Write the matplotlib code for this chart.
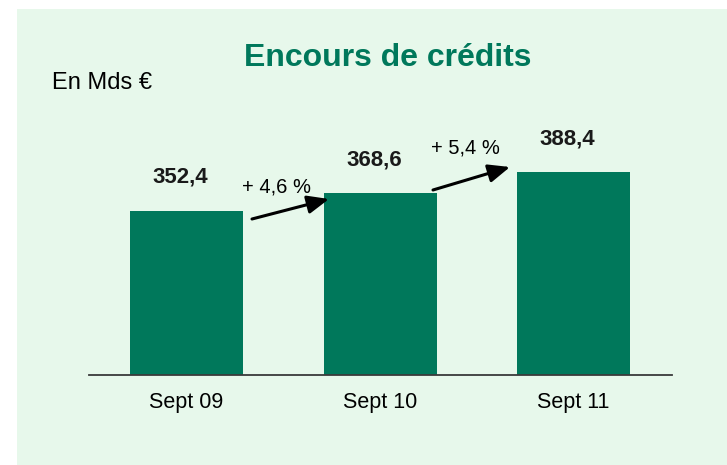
import matplotlib
matplotlib.use("Agg")
import matplotlib.pyplot as plt
from matplotlib.patches import Rectangle

plt.rcParams['font.family'] = ['Liberation Sans', 'DejaVu Sans']

categories = ["Sept 09", "Sept 10", "Sept 11"]
values = [352.4, 368.6, 388.4]
value_labels = ["352,4", "368,6", "388,4"]
growth_labels = ["+ 4,6 %", "+ 5,4 %"]

GREEN = "#00785B"
PANEL = "#E7F8EB"

W, H = 727, 465
fig = plt.figure(figsize=(W / 100, H / 100), dpi=100, facecolor="white")

# light green panel
fig.patches.append(Rectangle((17 / W, 0), (W - 17) / W, (H - 9) / H,
                             transform=fig.transFigure, facecolor=PANEL,
                             edgecolor="none", zorder=-10))

ax_left, ax_right, ax_bottom_px, ax_top_px = 89, 672, 375, 9
ax = fig.add_axes([ax_left / W, (H - ax_bottom_px) / H,
                   (ax_right - ax_left) / W, (ax_bottom_px - ax_top_px) / H])
ax.set_facecolor("none")

x = list(range(len(categories)))
ax.bar(x, values, width=0.584, color=GREEN, zorder=2)
ymin = 199.6
ax.set_ylim(ymin, ymin + (ax_bottom_px - ax_top_px) / 1.075)
ax.set_xlim(-0.504, 2.509)

for s in ["top", "right", "left"]:
    ax.spines[s].set_visible(False)
ax.spines["bottom"].set_color("#3a3a3a")
ax.spines["bottom"].set_linewidth(1.3)
ax.set_yticks([])
ax.set_xticks(x)
ax.set_xticklabels(categories, fontsize=15.5)
ax.tick_params(axis="x", length=0, pad=12)

for xi, v, lab in zip(x, values, value_labels):
    ax.annotate(lab, (xi - 0.03, v), xytext=(0, 24), textcoords="offset points",
                ha="center", va="center", fontsize=16, fontweight="bold",
                color="#1a1a1a")

# growth annotations (figure pixel coordinates)
growth_pos = [(277, 187), (465.5, 148)]
arrows = [((252, 219), (329, 199)), ((433, 190), (510, 167))]
for lab, (tx, ty) in zip(growth_labels, growth_pos):
    fig.text(tx / W, (H - ty) / H, lab, ha="center", va="center",
             fontsize=14.5, color="black")
for (x0, y0), (x1, y1) in arrows:
    ax.annotate("", xy=(x1, H - y1), xycoords="figure pixels",
                xytext=(x0, H - y0), textcoords="figure pixels",
                arrowprops=dict(arrowstyle="-|>,head_length=1.3,head_width=0.55",
                                color="black", lw=2.2, shrinkA=0, shrinkB=0))

fig.text(387.5 / W, (H - 58) / H, "Encours de crédits", ha="center", va="center",
         fontsize=23, fontweight="bold", color=GREEN)
fig.text(52 / W, (H - 83) / H, "En Mds €", ha="left", va="center",
         fontsize=17, color="black")

fig.savefig("out.png", dpi=100, facecolor="white")
